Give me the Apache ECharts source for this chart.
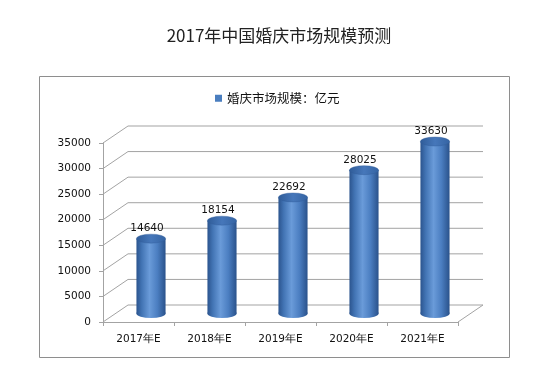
<!DOCTYPE html>
<html>
<head>
<meta charset="utf-8">
<script src="https://cdn.jsdelivr.net/npm/echarts@6/dist/echarts.min.js"></script>
<style>
  html, body { margin: 0; padding: 0; background: #fff; }
  #chart { width: 553px; height: 387px; }
</style>
</head>
<body>
<div id="chart"></div>
<script>
const titleText = '2017年中国婚庆市场规模预测';
const seriesName = '婚庆市场规模：亿元';
const categories = ['2017年E', '2018年E', '2019年E', '2020年E', '2021年E'];
const values = [14640, 18154, 22692, 28025, 33630];
const tickValues = [0, 5000, 10000, 15000, 20000, 25000, 30000, 35000];

const DX = 25, DY = -17;
const lineColor = '#a3a3a3';
const labelFont = '10.5px "DejaVu Sans", sans-serif';

const chart = echarts.init(document.getElementById('chart'), null, { renderer: 'canvas' });

const bodyGrad = () => new echarts.graphic.LinearGradient(0, 0, 1, 0, [
  { offset: 0, color: '#2b548e' },
  { offset: 0.18, color: '#4274b4' },
  { offset: 0.45, color: '#6a9bd9' },
  { offset: 0.72, color: '#4b7ec1' },
  { offset: 1, color: '#2a528b' }
]);
const topGrad = () => new echarts.graphic.LinearGradient(0, 0, 1, 0, [
  { offset: 0, color: '#2f5c98' },
  { offset: 0.5, color: '#4677ba' },
  { offset: 1, color: '#3564a3' }
]);

const option = {
  animation: false,
  title: {
    text: titleText,
    left: 274,
    textAlign: 'center',
    top: 22,
    textStyle: { fontSize: 17, fontWeight: 'normal', color: '#222', fontFamily: '"Noto Sans CJK SC", sans-serif' }
  },
  legend: {
    data: [seriesName],
    left: 210,
    top: 87,
    icon: 'rect',
    itemWidth: 7,
    itemHeight: 7,
    itemStyle: { color: '#4a7ebf' },
    textStyle: { fontSize: 12.5, color: '#111', fontFamily: '"Noto Sans CJK SC", sans-serif' }
  },
  graphic: [{
    type: 'rect',
    shape: { x: 39.5, y: 76.5, width: 470, height: 281 },
    style: { fill: null, stroke: '#8e8e8e', lineWidth: 1 },
    silent: true
  }],
  grid: { left: 103, right: 95, top: 143, bottom: 65 },
  xAxis: {
    type: 'category',
    data: categories,
    boundaryGap: true,
    axisLine: { show: true, lineStyle: { color: lineColor } },
    axisTick: { show: true, length: 4, lineStyle: { color: lineColor } },
    axisLabel: { margin: 12, fontSize: 10.5, color: '#111', fontFamily: '"DejaVu Sans", sans-serif' },
    splitLine: { show: false }
  },
  yAxis: {
    type: 'value',
    min: 0, max: 35000, interval: 5000,
    axisLine: { show: true, lineStyle: { color: lineColor } },
    axisTick: { show: true, length: 4, lineStyle: { color: lineColor } },
    axisLabel: {
      margin: 12, fontSize: 10.5, color: '#111', fontFamily: '"DejaVu Sans", sans-serif',
      formatter: function (v) { return String(v); }
    },
    splitLine: { show: false }
  },
  series: [
    {
      type: 'custom',
      name: 'walls',
      silent: true,
      z: 1,
      data: tickValues.map(v => [0, v]),
      encode: { x: 0, y: 1 },
      renderItem: function (params, api) {
        const v = api.value(1);
        const p = api.coord([0, v]);
        const band = api.size([1, 0])[0];
        const x0 = p[0] - band / 2;
        const xEnd = api.coord([categories.length - 1, v])[0] + band / 2;
        const y = p[1];
        const children = [{
          type: 'polyline',
          shape: { points: [[x0, y], [x0 + DX, y + DY], [xEnd + DX, y + DY]] },
          style: { stroke: lineColor, lineWidth: 1, fill: null }
        }];
        if (v === 0) {
          children.push({
            type: 'line',
            shape: { x1: xEnd, y1: y, x2: xEnd + DX, y2: y + DY },
            style: { stroke: lineColor, lineWidth: 1 }
          });
        }
        return { type: 'group', children: children };
      }
    },
    {
      type: 'custom',
      name: seriesName,
      z: 5,
      itemStyle: { color: '#4a7ebf' },
      data: values.map((v, i) => [i, v]),
      encode: { x: 0, y: 1 },
      renderItem: function (params, api) {
        const i = api.value(0);
        const v = api.value(1);
        const top = api.coord([i, v]);
        const base = api.coord([i, 0]);
        const band = api.size([1, 0])[0];
        const w = band * 0.41;
        const rx = w / 2, ry = 4.5;
        const cx = top[0] + DX / 2;
        const ty = top[1] + DY / 2;
        const by = base[1] + DY / 2;
        return {
          type: 'group',
          children: [
            {
              type: 'circle',
              shape: { cx: 0, cy: 0, r: rx },
              x: cx, y: by, scaleY: ry / rx,
              style: { fill: bodyGrad() }
            },
            {
              type: 'rect',
              shape: { x: cx - rx, y: ty, width: w, height: by - ty },
              style: { fill: bodyGrad() }
            },
            {
              type: 'circle',
              shape: { cx: 0, cy: 0, r: rx },
              x: cx, y: ty, scaleY: ry / rx,
              style: { fill: topGrad(), stroke: '#2e5b97', lineWidth: 0.6 }
            },
            {
              type: 'text',
              style: {
                text: String(v),
                x: cx - 4,
                y: ty - 10,
                textAlign: 'center',
                textVerticalAlign: 'middle',
                font: labelFont,
                fill: '#111'
              }
            }
          ]
        };
      }
    }
  ]
};
chart.setOption(option);
</script>
</body>
</html>
